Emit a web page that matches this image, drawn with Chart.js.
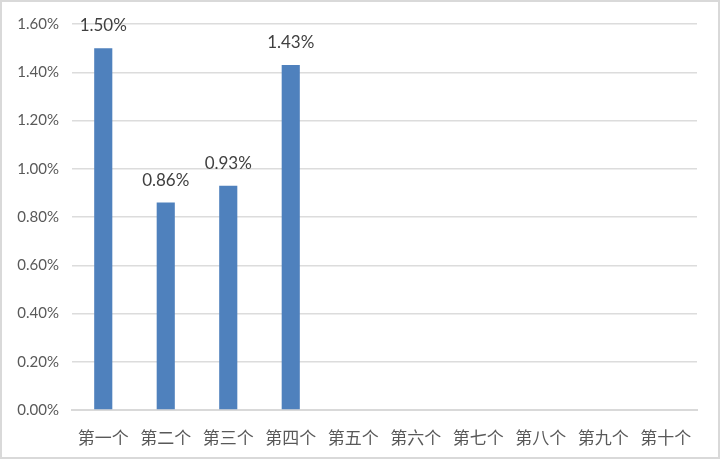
<!DOCTYPE html>
<html>
<head>
<meta charset="utf-8">
<script src="https://cdn.jsdelivr.net/npm/chart.js@4"></script>
<style>
  html, body { margin: 0; padding: 0; background: #fff; }
  #wrap {
    width: 720px; height: 459px; box-sizing: border-box;
    border: 2px solid #d9d9d9; background: #fff;
  }
  #wrap canvas { display: block; }
</style>
</head>
<body>
<div id="wrap"><canvas id="rateChart" width="716" height="455"></canvas></div>
<script>
const categories = ['第一个', '第二个', '第三个', '第四个', '第五个', '第六个', '第七个', '第八个', '第九个', '第十个'];
// percent values, empty slots have no bar
const rates = [1.50, 0.86, 0.93, 1.43, null, null, null, null, null, null];
const yMax = 1.6;
const yStep = 0.2;

const fmtPct = (v) => `${Number(v).toFixed(2)}%`;

const barLabels = {
    id: 'barLabels',
    afterDatasetsDraw(chart) {
        const { ctx } = chart;
        const meta = chart.getDatasetMeta(0);
        ctx.save();
        ctx.font = '17px Lato, "Open Sans", sans-serif';
        ctx.fillStyle = '#404040';
        ctx.textAlign = 'center';
        ctx.textBaseline = 'alphabetic';
        meta.data.forEach((bar, i) => {
            const v = rates[i];
            if (v === null || v === undefined) return;
            ctx.fillText(fmtPct(v), bar.x, bar.y - 17);
        });
        ctx.restore();
    }
};

new Chart(document.getElementById('rateChart'), {
    type: 'bar',
    data: {
        labels: categories,
        datasets: [{
            data: rates,
            backgroundColor: '#4f81bd',
            borderWidth: 0,
            barPercentage: 0.29,
            categoryPercentage: 1
        }]
    },
    options: {
        responsive: false,
        animation: false,
        layout: { padding: { top: 21, right: 21, left: 0, bottom: 0 } },
        plugins: {
            legend: { display: false },
            tooltip: { enabled: false }
        },
        scales: {
            x: {
                grid: { display: false },
                border: { color: '#d9d9d9', width: 2 },
                ticks: {
                    color: '#595959',
                    padding: 9,
                    maxRotation: 0,
                    autoSkip: false,
                    font: { family: '"Noto Sans CJK SC", sans-serif', size: 17 }
                },
                afterFit: (scale) => { scale.height = 47; }
            },
            y: {
                min: 0,
                max: yMax,
                grid: { color: '#dcdcdc', lineWidth: 1.5, drawTicks: false },
                border: { display: false },
                ticks: {
                    stepSize: yStep,
                    color: '#595959',
                    padding: 13,
                    font: { family: 'Lato, "Open Sans", sans-serif', size: 15 },
                    callback: (value) => fmtPct(value)
                },
                afterFit: (scale) => { scale.width = 70; }
            }
        }
    },
    plugins: [barLabels]
});
</script>
</body>
</html>
